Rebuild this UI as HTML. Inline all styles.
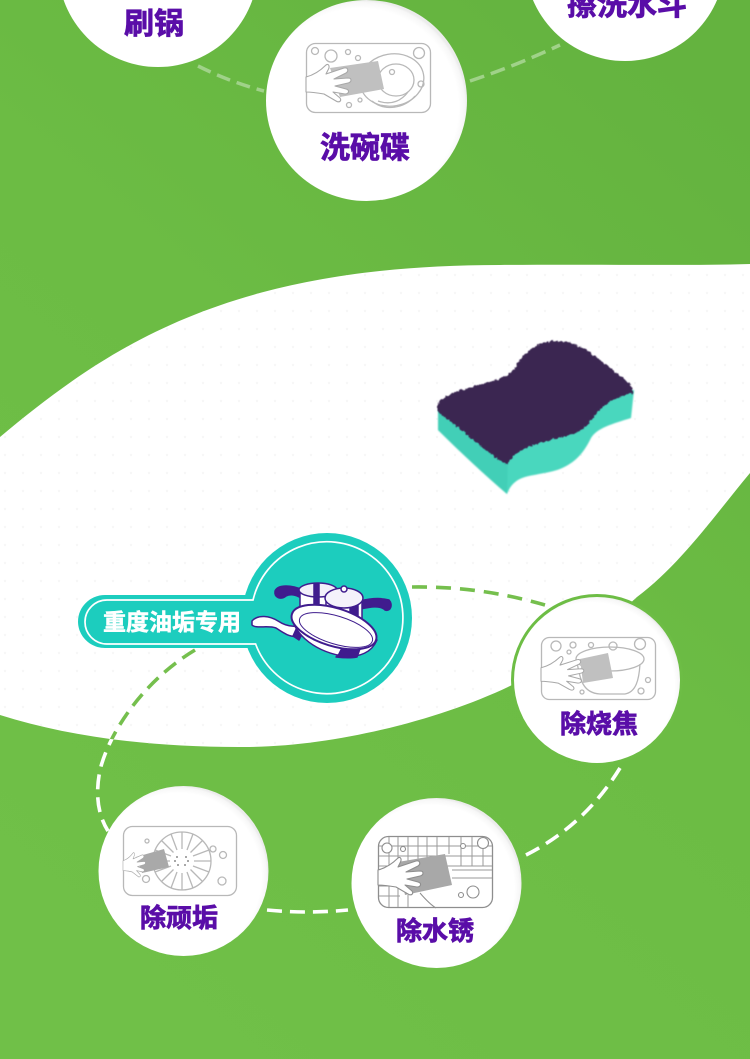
<!DOCTYPE html>
<html lang="zh"><head><meta charset="utf-8"><title>海绵</title>
<style>html,body{margin:0;padding:0;background:#6cbc45}svg{display:block}
text{font-family:"Liberation Sans","Noto Sans CJK SC",sans-serif;font-weight:700;text-anchor:middle}
.p{fill:#5a10a8;stroke:#5a10a8;stroke-width:.8}
.i{fill:none;stroke:#b8b8b8;stroke-width:1.3}
.s{fill:#c0c0c0}
.h{fill:#fff;stroke:#a8a8a8;stroke-width:1.1;stroke-linejoin:round}
.d{fill:none;stroke-width:3.6}
</style></head><body>
<svg width="750" height="1059" viewBox="0 0 750 1059" xmlns="http://www.w3.org/2000/svg">
<defs>
<linearGradient id="bg" x1="0.2" y1="1" x2="0.8" y2="0"><stop offset="0" stop-color="#70c048"/><stop offset=".55" stop-color="#6cbc44"/><stop offset="1" stop-color="#64b33f"/></linearGradient>
<radialGradient id="c" cx=".47" cy=".53" r=".53"><stop offset=".92" stop-color="#fff"/><stop offset=".98" stop-color="#f7f7f7"/><stop offset="1" stop-color="#ececec"/></radialGradient>
<pattern id="dots" width="18" height="18" patternUnits="userSpaceOnUse"><circle cx="5" cy="5" r="1.2" fill="#f7f7f7"/></pattern>
<path id="hand" d="M0 12C8 10 14 6 20 0C23-2 24 2 22 5L20 9L38 3C42 2 43 6 40 8L28 14L42 13C46 13 46 17 42 18L29 21L40 24C44 25 43 29 39 29L27 27L34 33C36 36 33 38 30 36L18 29C12 28 6 27 0 27Z"/>
<path id="leafp" d="M0 437C110 345 230 265 500 265C600 264 680 266 750 264L750 473C715 515 680 565 637 597C590 640 550 670 512 685C440 720 330 748 239 747C150 747 70 737 0 715Z"/>
<clipPath id="leafc"><use href="#leafp"/></clipPath>
<filter id="soft" x="-2%" y="-2%" width="104%" height="104%"><feGaussianBlur stdDeviation=".35"/></filter>
<filter id="fuzz" x="-10%" y="-10%" width="120%" height="120%">
<feTurbulence type="fractalNoise" baseFrequency=".35" numOctaves="2" seed="4" result="n"/>
<feDisplacementMap in="SourceGraphic" in2="n" scale="4" xChannelSelector="R" yChannelSelector="G" result="d"/>
<feGaussianBlur in="d" stdDeviation=".5"/>
</filter>
<filter id="b1" x="-10%" y="-10%" width="120%" height="120%"><feGaussianBlur stdDeviation=".7"/></filter>
</defs>
<rect width="750" height="1059" fill="url(#bg)"/>
<use href="#leafp" fill="#fff"/>
<use href="#leafp" fill="url(#dots)"/>
<g filter="url(#soft)">
<!-- faded top connectors -->
<path d="M198 66Q230 82 264 91" fill="none" stroke="#a0d289" stroke-width="3.5" stroke-dasharray="14 7"/>
<path d="M470 81Q515 66 560 45" fill="none" stroke="#a0d289" stroke-width="3.5" stroke-dasharray="15 7"/>

<!-- connectors -->
<path class="d" stroke="#fff" d="M195 650C145 680 110 730 100 770C95 795 98 815 108 831" stroke-dasharray="15 8"/>
<path class="d" stroke="#74bf4e" clip-path="url(#leafc)" d="M195 650C145 680 110 730 100 770C95 795 98 815 108 831" stroke-dasharray="15 8"/>
<path class="d" stroke="#74bf4e" d="M412 587Q480 586 545 605" stroke-dasharray="15 9"/>
<path class="d" stroke="#fff" d="M267 910Q307 914 348 910" stroke-dasharray="15 8"/>
<path class="d" stroke="#fff" d="M526 855Q585 825 620 768" stroke-dasharray="15 8"/>

<!-- top circles -->
<circle cx="158" cy="-33" r="100" fill="#fff"/>
<circle cx="625" cy="-39" r="100" fill="#fff"/>
<text x="154" y="34" font-size="30" class="p">刷锅</text>
<text x="627" y="15" font-size="30" class="p">擦洗水斗</text>

<!-- 洗碗碟 -->
<circle cx="366.5" cy="100.5" r="100.5" fill="url(#c)"/>
<rect x="306.500" y="43.500" width="124" height="69" rx="9" class="i"/>
<g class="i"><ellipse cx="392" cy="80" rx="32" ry="26" transform="rotate(-10 392 80)"/><ellipse cx="396" cy="80" rx="18" ry="16"/><circle cx="392" cy="72" r="2.500"/><path d="M372 101C385 112 405 108 415 96M378 101C392 106 402 100 408 92"/><circle cx="315" cy="51" r="3.500"/><circle cx="331" cy="56" r="6"/><circle cx="348" cy="52" r="2.500"/><circle cx="358" cy="58" r="2.500"/><circle cx="419" cy="53" r="5.500"/><circle cx="421" cy="84" r="3"/><circle cx="349" cy="105" r="2.500"/><circle cx="360" cy="100" r="2"/></g>
<polygon class="s" points="330,68 378,61 384,89 340,97"/>
<use href="#hand" class="h" transform="translate(306 65)"/>
<text x="365" y="158" font-size="30" class="p">洗碗碟</text>

<!-- sponge -->
<g filter="url(#b1)">
<path d="M438 410L438 430C460 452 485 475 507 494C510 486 515 480 525 477C540 473 555 473 568 465C580 458 586 448 591 438C597 428 612 424 631 418L634 390Z" fill="#4ad7be"/>
<path d="M438 410L438 430C460 452 485 475 507 494L508 462Z" fill="#42cfb7"/>
</g>
<path filter="url(#fuzz)" d="M438 404C445 393 462 390 478 385C495 380 508 378 515 368C523 352 535 344 552 341C570 339 585 348 600 360C615 372 628 380 633 389L633 393C618 396 606 402 598 412C590 422 582 433 570 435C555 439 535 443 522 450C514 454 510 459 507 465C490 455 460 428 438 412Z" fill="#3a2551"/>

<!-- teal badge -->
<circle cx="327" cy="618" r="85" fill="#1fcdbe"/>
<path d="M105 595H262V648H105C90 648 78 636 78 621.500C78 607 90 595 105 595Z" fill="#1fcdbe"/>
<path d="M107 600H253A76 76 0 1 1 255.600 644H107A22 22 0 0 1 107 600Z" fill="none" stroke="#fff" stroke-width="1.700"/>
<text x="172" y="630" font-size="23" fill="#fff" stroke="#fff" stroke-width=".5">重度油垢专用</text>

<!-- pots -->
<g stroke="#3f1f8e" stroke-width="1.500" stroke-linejoin="round">
<path d="M303 590C292 585 278 584 275 591C274 598 281 600 286 596C292 593 298 596 303 599Z" fill="#3f1f8e"/>
<path d="M360 601C372 598 382 598 389 600C393 604 391 612 385 610C380 605 370 607 360 609Z" fill="#3f1f8e"/>
<path d="M300 590V610L338 615V590Z" fill="#fff"/><ellipse cx="318" cy="590" rx="19" ry="7" fill="#f2f0fa"/>
<rect x="314" y="584" width="5" height="26" fill="#3f1f8e"/>
<path d="M326 597V615L362 621V597Z" fill="#fff"/><rect x="350" y="602" width="8" height="16" fill="#3f1f8e"/>
<ellipse cx="344" cy="598" rx="19" ry="10" fill="#f4f2fb"/><circle cx="344" cy="589" r="3" fill="#fff"/>
<path d="M252 621C258 614 270 616 278 621C284 625 290 627 297 626L298 636C290 638 282 632 276 628C268 625 256 629 252 625Z" fill="#fff"/>
<path d="M298 625L293 636L299 640L304 630Z" fill="#3f1f8e"/>
<path d="M292 615C292 630 310 650 342 656C360 658 372 652 377 640L333 612Z" fill="#fff"/>
<path d="M339 654L336 657C345 658 352 658 357 657L361 646L344 644Z" fill="#3f1f8e"/>
<ellipse cx="334" cy="627" rx="44" ry="19" transform="rotate(17 334 627)" fill="#fff" stroke-width="2"/>
<ellipse cx="336" cy="630" rx="38" ry="14" transform="rotate(17 336 630)" fill="#fff" stroke-width="1"/>
</g>

<!-- 除烧焦 -->
<circle cx="597" cy="680" r="84.500" fill="url(#c)" stroke="#6dbd45" stroke-width="3"/>
<rect x="541.500" y="637.500" width="114" height="62" rx="8" class="i" stroke-width="1.500"/>
<g class="i"><ellipse cx="610" cy="659" rx="34" ry="12"/><path d="M577 662C580 680 583 693 600 694H625C636 692 639 680 640 664"/><circle cx="613" cy="646" r="4"/><circle cx="556" cy="646" r="5"/><circle cx="573" cy="645" r="3"/><circle cx="569" cy="652" r="2"/><circle cx="591" cy="645" r="2.500"/><circle cx="640" cy="644" r="5.500"/><circle cx="648" cy="680" r="2.500"/><circle cx="641" cy="691" r="3"/><circle cx="582" cy="692" r="2"/></g>
<polygon class="s" points="580,659 608,653 613,678 583,683"/>
<use href="#hand" class="h" transform="translate(541 657) scale(.95 .9)"/>
<text x="599" y="733" font-size="26" class="p">除烧焦</text>

<!-- 除顽垢 -->
<circle cx="183.500" cy="871" r="85" fill="url(#c)"/>
<rect x="123.500" y="826.500" width="113" height="69" rx="9" class="i"/>
<g class="i" stroke-width="1"><circle cx="182" cy="861" r="29"/>
<path d="M182 832V849M182 873V890M153 861H170M194 861H211M161.500 840.500L173.500 852.500M190.500 869.500L202.500 881.500M161.500 881.500L173.500 869.500M190.500 852.500L202.500 840.500M171 834L177 850M187 872L193 888M155 850L171 856M193 866L209 872M155 872L171 866M193 856L209 850M171 888L177 872M187 850L193 834"/>
<circle cx="147" cy="841" r="2"/><circle cx="213" cy="849" r="3"/><circle cx="223" cy="855" r="3.500"/><circle cx="222" cy="881" r="4"/><circle cx="146" cy="879" r="3.500"/></g>
<g fill="#8c8c8c"><circle cx="177" cy="857" r="1"/><circle cx="186" cy="857" r="1"/><circle cx="175" cy="861" r="1"/><circle cx="188" cy="861" r="1"/><circle cx="178" cy="865" r="1"/><circle cx="185" cy="865" r="1"/></g>
<polygon points="136,857 164,849 169,867 142,873" fill="#a9a9a9"/>
<use href="#hand" class="h" transform="translate(123 853) scale(.5 .65)"/>
<text x="179" y="927" font-size="26" class="p">除顽垢</text>

<!-- 除水锈 -->
<circle cx="436.500" cy="883" r="85" fill="url(#c)"/>
<rect x="378.500" y="836.500" width="114" height="71" rx="10" fill="none" style="stroke:#8e8e8e" stroke-width="1.300"/>
<path d="M379 846H492M379 856H492M379 866H492M379 876H400M379 886H396M379 896H400M452 870H492M452 878H492M389 837V907M398 837V907M408 837V870M408 895V907M418 837V860M427 837V858M437 837V856M449 837V854M461 837V866M472 837V866M483 837V866" fill="none" stroke="#9a9a9a" stroke-width="1"/>
<g style="fill:#fff;stroke:#8e8e8e" stroke-width="1.100"><circle cx="387" cy="848" r="5"/><circle cx="403" cy="849" r="2.500"/><circle cx="463" cy="846" r="2.500"/><circle cx="483" cy="843" r="5.500"/><circle cx="473" cy="892" r="6"/><circle cx="461" cy="895" r="2.500"/></g>
<path d="M420 893C426 900 431 905 436 908" fill="none" stroke="#8e8e8e"/>
<polygon points="398,862 445,854 452,885 405,895" fill="#a8a8a8"/>
<use href="#hand" class="h" transform="translate(378 858)" style="stroke:#8e8e8e"/>
<text x="435" y="940" font-size="26" class="p">除水锈</text>
</g>
</svg>
</body></html>
